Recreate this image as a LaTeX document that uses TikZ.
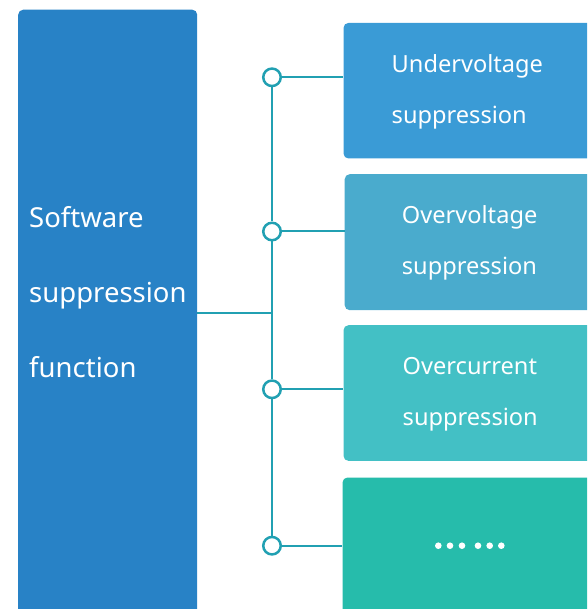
\documentclass[tikz,border=0pt]{standalone}
\usepackage{fontspec}
\setmainfont{Noto Sans}
\definecolor{mainc}{HTML}{2882C6}
\definecolor{bonec}{HTML}{3A9BD6}
\definecolor{btwoc}{HTML}{4AABCD}
\definecolor{bthreec}{HTML}{43C0C5}
\definecolor{bfourc}{HTML}{26BCAB}
\definecolor{linec}{HTML}{21A0B2}
\begin{document}
\begin{tikzpicture}[x=1pt,y=-1pt,
  box/.style={rectangle, rounded corners=5pt, minimum width=260pt, anchor=north west, inner sep=0pt},
  lbl/.style={text=white, align=left, anchor=base west, inner sep=0pt, font=\fontsize{23.6}{51}\selectfont},
  hub/.style={circle, draw=linec, line width=2.5pt, fill=white, minimum size=17.5pt, inner sep=0pt},
  conn/.style={draw=linec, line width=2pt}]
\useasboundingbox (0,0) rectangle (587,609);
\clip (0,0) rectangle (587,609);
% main box
\node[fill=mainc, rounded corners=5pt, minimum width=179pt, minimum height=620pt, anchor=north west, inner sep=0pt] (main) at (18,9.5) {};
\node[lbl, font=\fontsize{27.5}{75}\selectfont] (mt) at (29,377.3) {Software\\suppression\\function};
% right boxes
\node[box, fill=bonec, minimum height=135.6pt] (b1) at (343.3,22.7) {};
\node[box, fill=btwoc, minimum height=136pt] (b2) at (344.5,174) {};
\node[box, fill=bthreec, minimum height=135.7pt] (b3) at (343.3,325) {};
\node[box, fill=bfourc, minimum height=150pt] (b4) at (342.3,477.3) {};
\node[lbl] (t1) at (391.5,123.5) {Undervoltage\\suppression};
\node[lbl] (t2) at (401.7,274.2) {Overvoltage\\suppression};
\node[lbl] (t3) at (402.5,425) {Overcurrent\\suppression};
\foreach \x in {438.3,450,462,478,489.7,501.3} \fill[white] (\x,545.7) circle (3.3pt);
% hubs
\coordinate (j) at (272,313);
\node[hub] (c1) at (272,77.3) {};
\node[hub] (c2) at (272,231.5) {};
\node[hub] (c3) at (272,389.3) {};
\node[hub] (c4) at (272,545.7) {};
\draw[conn] (c1) -- (c2) -- (c3) -- (c4);
\draw[conn] (main.east |- j) -- (j);
\draw[conn] (c1) -- (b1.west |- c1);
\draw[conn] (c2) -- (b2.west |- c2);
\draw[conn] (c3) -- (b3.west |- c3);
\draw[conn] (c4) -- (b4.west |- c4);
\end{tikzpicture}
\end{document}
